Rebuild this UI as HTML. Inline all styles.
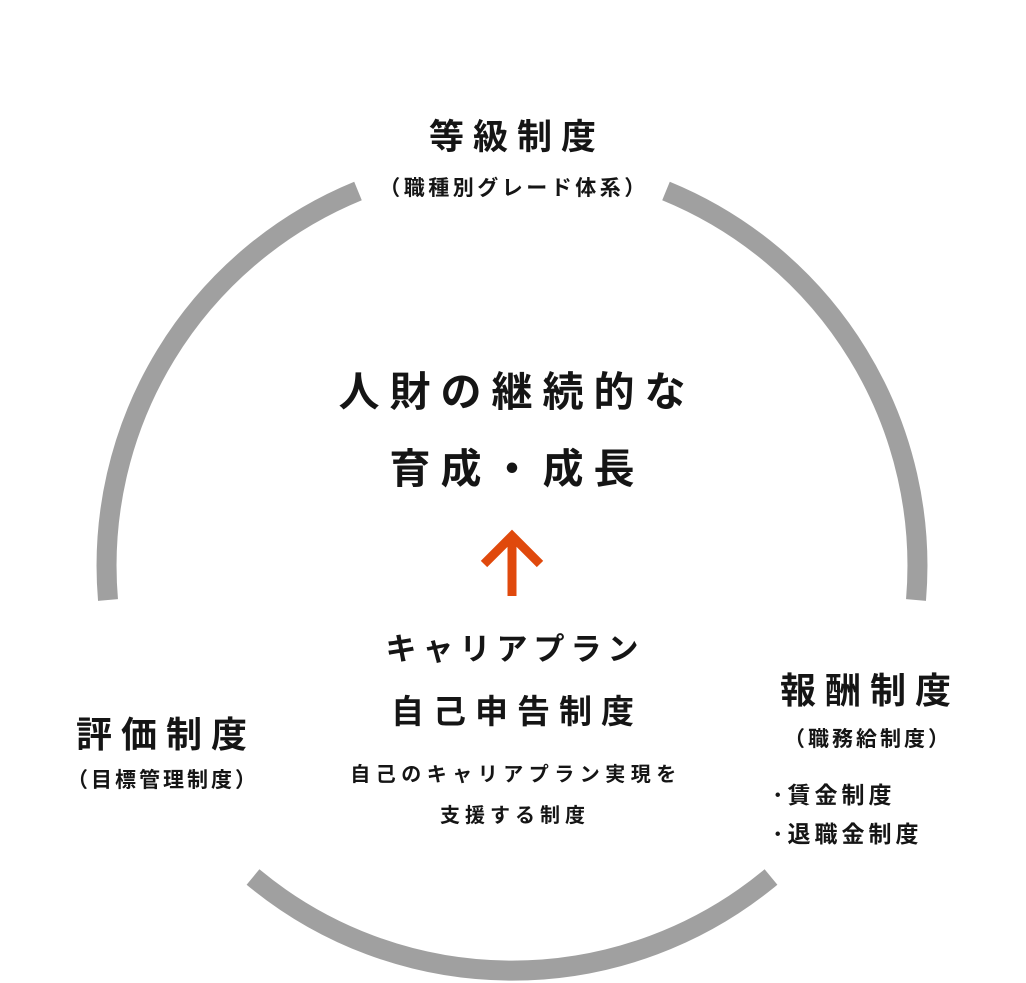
<!DOCTYPE html>
<html><head><meta charset="utf-8"><style>
html,body{margin:0;padding:0;background:#fff;}
body{width:1026px;height:983px;position:relative;overflow:hidden;font-family:"Liberation Sans","Noto Sans CJK JP",sans-serif;color:#151515;font-weight:bold;}
.t{position:absolute;white-space:nowrap;text-align:center;line-height:1;}
</style></head><body>
<svg width="1026" height="983" style="position:absolute;left:0;top:0">
<g fill="none" stroke="#a0a0a0" stroke-width="20">
<path d="M358 191 A405 405 0 0 0 108 600"/>
<path d="M666 191 A405 405 0 0 1 916 600"/>
<path d="M253 877 A405 405 0 0 0 771 877"/>
</g>
<g fill="none" stroke="#e0490c" stroke-width="9">
<path d="M512 534 V596"/>
<path d="M484 564 L512 536 L540 564"/>
</g>
</svg>
<div class="t" style="left:317px;width:400px;top:120px;font-size:35px;letter-spacing:9px;">等級制度</div>
<div class="t" style="left:314px;width:400px;top:178px;font-size:21px;letter-spacing:3.5px;">（職種別グレード体系）</div>
<div class="t" style="left:267px;width:500px;top:372px;font-size:41px;letter-spacing:10px;">人財の継続的な</div>
<div class="t" style="left:267px;width:500px;top:449px;font-size:41px;letter-spacing:10px;">育成・成長</div>
<div class="t" style="left:315px;width:400px;top:634px;font-size:31px;letter-spacing:6px;">キャリアプラン</div>
<div class="t" style="left:317px;width:400px;top:695px;font-size:33px;letter-spacing:9px;">自己申告制度</div>
<div class="t" style="left:316px;width:400px;top:765px;font-size:20px;letter-spacing:5.5px;">自己のキャリアプラン実現を</div>
<div class="t" style="left:315px;width:400px;top:806px;font-size:20px;letter-spacing:5px;">支援する制度</div>
<div class="t" style="left:66px;width:200px;top:717px;font-size:36px;letter-spacing:9px;">評価制度</div>
<div class="t" style="left:63px;width:200px;top:770px;font-size:21px;letter-spacing:3px;">（目標管理制度）</div>
<div class="t" style="left:770px;width:200px;top:673px;font-size:36px;letter-spacing:9px;">報酬制度</div>
<div class="t" style="left:768px;width:200px;top:729px;font-size:21px;letter-spacing:3px;">（職務給制度）</div>
<div class="t" style="left:772px;top:784px;font-size:23px;letter-spacing:4px;text-align:left;">･賃金制度</div>
<div class="t" style="left:772px;top:823px;font-size:23px;letter-spacing:4px;text-align:left;">･退職金制度</div>
</body></html>
